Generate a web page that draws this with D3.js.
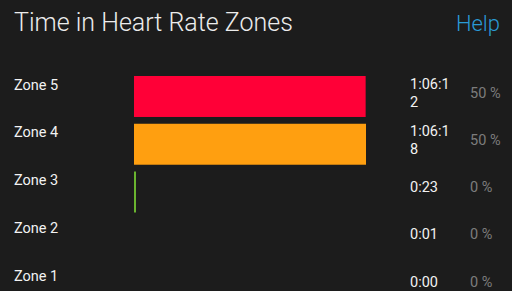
<!DOCTYPE html>
<html>
<head>
<meta charset="utf-8">
<script src="https://cdn.jsdelivr.net/npm/d3@7"></script>
<style>
  html, body { margin: 0; padding: 0; background: #1c1c1c; }
  svg { display: block; font-family: Roboto, sans-serif; }
</style>
</head>
<body>
<div class="chart"></div>
<script>
const zones = ["Zone 5", "Zone 4", "Zone 3", "Zone 2", "Zone 1"];
const seconds = [3972, 3978, 23, 1, 0];
const timeLabels = ["1:06:12", "1:06:18", "0:23", "0:01", "0:00"];
const percents = [50, 50, 0, 0, 0];
const zoneColors = ["#ff0037", "#ff9f10", "#6ab42f", "#2c8fd0", "#999999"];

const width = 512, height = 291;
const data = zones.map((z, i) => ({zone: z, secs: seconds[i], time: timeLabels[i], pct: percents[i], color: zoneColors[i]}));

const svg = d3.select('.chart')
    .append('svg')
    .attr("width", width)
    .attr("height", height);

svg.append("rect").attr("width", width).attr("height", height).attr("fill", "#1c1c1c");

svg.append("text")
    .attr("x", 14)
    .attr("y", 31)
    .attr("fill", "#ececec")
    .attr("font-size", 25)
    .attr("font-weight", 300)
    .text("Time in Heart Rate Zones");

svg.append("text")
    .attr("x", 500)
    .attr("y", 31)
    .attr("text-anchor", "end")
    .attr("fill", "#2a9ad6")
    .attr("font-size", 22)
    .attr("font-weight", 300)
    .text("Help");

const yScale = d3.scaleBand()
    .domain(zones)
    .range([76, 308])
    .paddingInner(0.142);

// value column rows sit on a slightly tighter pitch than the bars
const yValue = d3.scalePoint()
    .domain(zones)
    .range([98, 286.5]);

const xScale = d3.scaleLinear()
    .domain([0, d3.max(seconds)])
    .range([134, 366]);

// tiny non-zero bars get a 2px sliver so they stay visible
const barWidth = s => {
    const w = xScale(s) - xScale(0);
    return w < 0.5 ? 0 : Math.max(2, w);
};

svg.selectAll("text.zone")
    .data(data)
    .enter()
    .append("text")
    .attr("class", "zone")
    .attr("x", 14)
    .attr("y", d => yScale(d.zone) + 13.5)
    .attr("fill", "#f2f2f2")
    .attr("font-size", 14.5)
    .text(d => d.zone);

svg.selectAll("rect.bar")
    .data(data)
    .enter()
    .append("rect")
    .attr("class", "bar")
    .attr("x", xScale(0))
    .attr("y", d => yScale(d.zone))
    .attr("width", d => barWidth(d.secs))
    .attr("height", yScale.bandwidth())
    .attr("fill", d => d.color);

// time column is narrow, so long values wrap onto a second line
const colWidth = 44;
data.forEach(d => {
    const base = yValue(d.zone);
    const t = svg.append("text")
        .attr("x", 410)
        .attr("fill", "#f2f2f2")
        .attr("font-size", 14.5);
    const ts = t.append("tspan").attr("x", 410).text(d.time);
    let lines = [d.time];
    if (ts.node().getComputedTextLength() > colWidth) {
        let cut = d.time.length;
        while (cut > 1) {
            ts.text(d.time.slice(0, cut));
            if (ts.node().getComputedTextLength() <= colWidth) break;
            cut--;
        }
        lines = [d.time.slice(0, cut), d.time.slice(cut)];
        t.append("tspan").attr("x", 410).attr("dy", 17.5).text(lines[1]);
    }
    t.attr("y", lines.length > 1 ? base - 9 : base);
});

svg.selectAll("text.pct")
    .data(data)
    .enter()
    .append("text")
    .attr("class", "pct")
    .attr("x", 470)
    .attr("y", d => yValue(d.zone))
    .attr("fill", "#7c7c7c")
    .attr("font-size", 14.5)
    .text(d => d.pct + " %");
</script>
</body>
</html>
